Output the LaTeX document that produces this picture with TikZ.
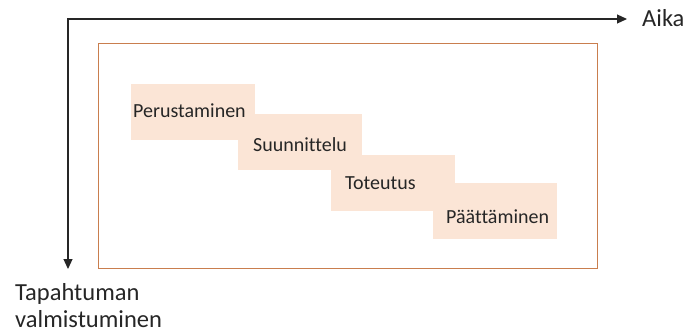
\documentclass[tikz,border=0pt]{standalone}
\usepackage{fontspec}
\setmainfont[Ligatures={NoCommon,NoRare}]{Carlito}
\usetikzlibrary{arrows.meta}
\definecolor{peach}{HTML}{FBE5D6}
\definecolor{framec}{HTML}{C97E4E}
\begin{document}
\begin{tikzpicture}[x=1pt,y=-1pt,
  phasebox/.style={fill=peach, draw=none, inner sep=0pt, anchor=north west, minimum width=124pt, minimum height=56pt},
  phaselbl/.style={anchor=base west, inner sep=0pt, font=\fontsize{20}{24}\selectfont, text=black!85},
  axislbl/.style={anchor=base west, inner sep=0pt, font=\fontsize{24.5}{29}\selectfont, text=black!85},
  axisline/.style={line width=1.2pt, black!85, {Triangle[length=10pt,width=9pt]}-{Triangle[length=10pt,width=9pt]}}]
\useasboundingbox (0,0) rectangle (686,332);
\node[draw=framec, line width=1.3pt, anchor=north west, inner sep=0pt, minimum width=499pt, minimum height=225pt] (frame) at (98,43) {};
\node[phasebox] (b1) at (131,84) {};
\node[phasebox] (b2) at (238,114) {};
\node[phasebox] (b3) at (331,155) {};
\node[phasebox] (b4) at (433,183) {};
\node[phaselbl] (t1) at (133,117) {Perustaminen};
\node[phaselbl] (t2) at (253,151) {Suunnittelu};
\node[phaselbl] (t3) at (345,189) {Toteutus};
\node[phaselbl] (t4) at (446,223) {Päättäminen};
\coordinate (o) at (68,19);
\coordinate (xe) at (627,19);
\coordinate (ye) at (68,269);
\draw[axisline] (xe) -- (o) -- (ye);
\node[axislbl] (aika) at (642,27) {Aika};
\node[axislbl] (tap) at (15,300) {Tapahtuman};
\node[axislbl] (valm) at (15,327) {valmistuminen};
\end{tikzpicture}
\end{document}
